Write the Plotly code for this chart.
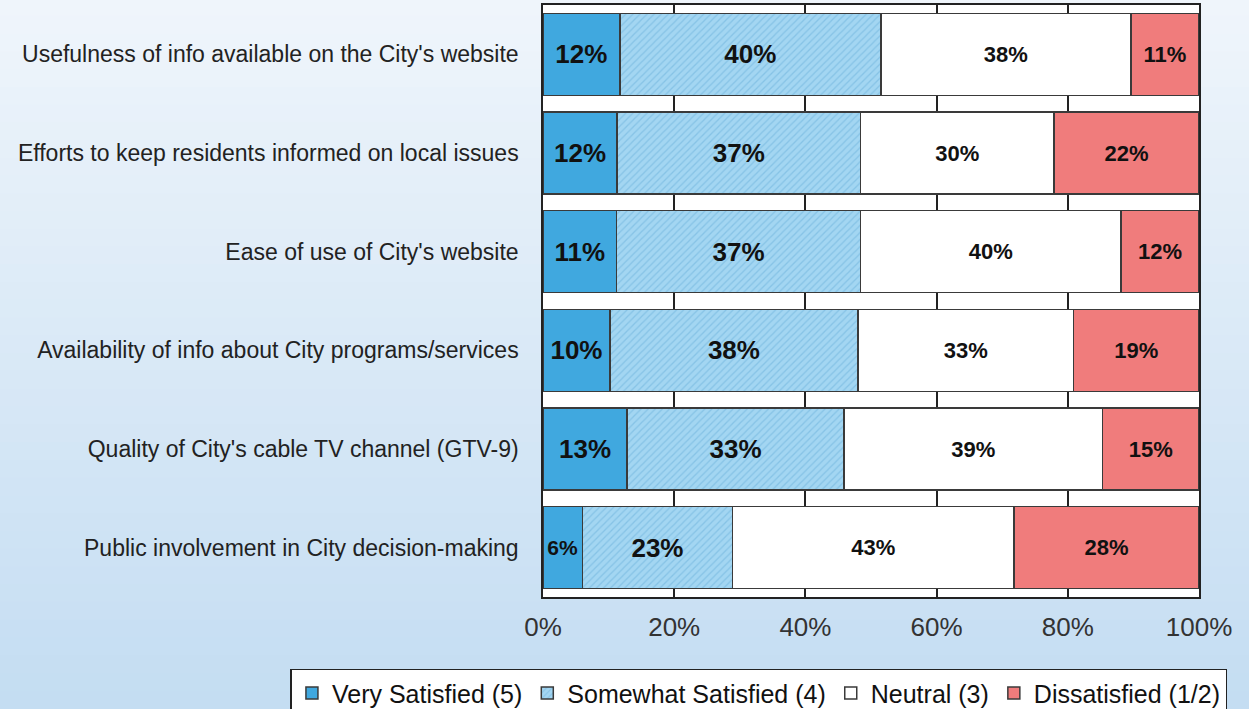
import plotly.graph_objects as go

# survey items, top to bottom
categories = [
    "Usefulness of info available on the City's website",
    "Efforts to keep residents informed on local issues",
    "Ease of use of City's website",
    "Availability of info about City programs/services",
    "Quality of City's cable TV channel (GTV-9)",
    "Public involvement in City decision-making",
]

# segment lengths (% of respondents)
very_satisfied = [11.7, 11.3, 11.2, 10.2, 12.8, 6.0]
somewhat_satisfied = [39.8, 37.1, 37.2, 37.8, 33.1, 22.9]
neutral = [38.1, 29.5, 39.7, 32.9, 39.4, 42.9]
dissatisfied = [10.4, 22.1, 11.9, 19.1, 14.7, 28.2]

# rounded labels printed on the bars
very_labels = [12, 12, 11, 10, 13, 6]
somewhat_labels = [40, 37, 37, 38, 33, 23]
neutral_labels = [38, 30, 40, 33, 39, 43]
dissat_labels = [11, 22, 12, 19, 15, 28]

x_ticks = [0, 20, 40, 60, 80, 100]

FONT = "Liberation Sans, Arial, sans-serif"
OUTLINE = dict(color="#3a3a3a", width=1.5)


def main() -> None:
    fig = go.Figure()

    fig.add_trace(go.Bar(
        y=categories, x=very_satisfied, orientation="h",
        name="Very Satisfied (5)",
        text=[f"{v}%" for v in very_labels],
        textfont=dict(size=[26, 26, 26, 26, 26, 21], color="#111111", family=FONT, weight="bold"),
        marker=dict(color="#40a8df", line=OUTLINE),
    ))
    fig.add_trace(go.Bar(
        y=categories, x=somewhat_satisfied, orientation="h",
        name="Somewhat Satisfied (4)",
        text=[f"{v}%" for v in somewhat_labels],
        textfont=dict(size=26, color="#111111", family=FONT, weight="bold"),
        marker=dict(color="#a3d6f2", line=OUTLINE,
                    pattern=dict(shape="/", bgcolor="#a3d6f2", fgcolor="#86c3e6",
                                 size=5, solidity=0.25, fillmode="replace")),
    ))
    fig.add_trace(go.Bar(
        y=categories, x=neutral, orientation="h",
        name="Neutral (3)",
        text=[f"{v}%" for v in neutral_labels],
        textfont=dict(size=22, color="#111111", family=FONT, weight="bold"),
        marker=dict(color="#ffffff", line=OUTLINE),
    ))
    fig.add_trace(go.Bar(
        y=categories, x=dissatisfied, orientation="h",
        name="Dissatisfied (1/2)",
        text=[f"{v}%" for v in dissat_labels],
        textfont=dict(size=22, color="#111111", family=FONT, weight="bold"),
        marker=dict(color="#f07c7c", line=OUTLINE),
    ))

    fig.update_traces(textposition="inside", insidetextanchor="middle",
                      textangle=0, constraintext="none", hoverinfo="skip")

    # light-to-blue vertical gradient behind everything
    top = (239, 245, 251)
    bottom = (196, 221, 242)
    n = 40
    y_top, y_bot = 1.01, -0.19
    shapes = []
    for i in range(n):
        t = i / (n - 1)
        c = tuple(round(top[k] + (bottom[k] - top[k]) * t) for k in range(3))
        y0 = y_top - (y_top - y_bot) * i / n
        y1 = y_top - (y_top - y_bot) * (i + 1) / n
        shapes.append(dict(type="rect", xref="paper", yref="paper",
                           x0=-0.85, x1=1.1, y0=y1 - 0.002, y1=y0 + 0.002,
                           fillcolor=f"rgb{c}", line_width=0, layer="below"))
    shapes.append(dict(type="rect", xref="paper", yref="paper", x0=0, x1=1, y0=0, y1=1,
                       fillcolor="white", line_width=0, layer="below"))

    fig.update_layout(
        width=1249, height=709,
        margin=dict(l=543, r=50, t=5, b=112, autoexpand=False),
        barmode="stack", bargap=0.17,
        paper_bgcolor="#dbe9f6", plot_bgcolor="white",
        font=dict(family=FONT, color="#222222"),
        shapes=shapes,
        showlegend=True,
        legend=dict(orientation="h", x=-0.385, xanchor="left", y=-0.121, yanchor="top",
                    bgcolor="white", bordercolor="#222222", borderwidth=1.5,
                    font=dict(size=25, family=FONT, color="#111111"),
                    traceorder="normal", itemwidth=30),
    )
    fig.update_xaxes(range=[0, 100], tickvals=x_ticks,
                     ticktext=[f"{v}%" for v in x_ticks],
                     showgrid=True, gridcolor="#222222", gridwidth=1.5,
                     showline=True, linecolor="#222222", linewidth=1.5, mirror=True,
                     ticks="", tickfont=dict(size=26, color="#333333"),
                     ticklabelstandoff=6, zeroline=False, fixedrange=True,
                     automargin=False)
    fig.update_yaxes(autorange="reversed", showline=True, linecolor="#222222",
                     linewidth=1.5, mirror=True, ticks="",
                     tickfont=dict(size=23, color="#222222"),
                     ticklabelstandoff=18, fixedrange=True, automargin=False)

    # drop the browser's default 8px body margin so the figure sits at the page corner
    fig.write_html("out.html", config={"displayModeBar": False},
                   post_script="document.body.style.margin='0';")


if __name__ == "__main__":
    main()
